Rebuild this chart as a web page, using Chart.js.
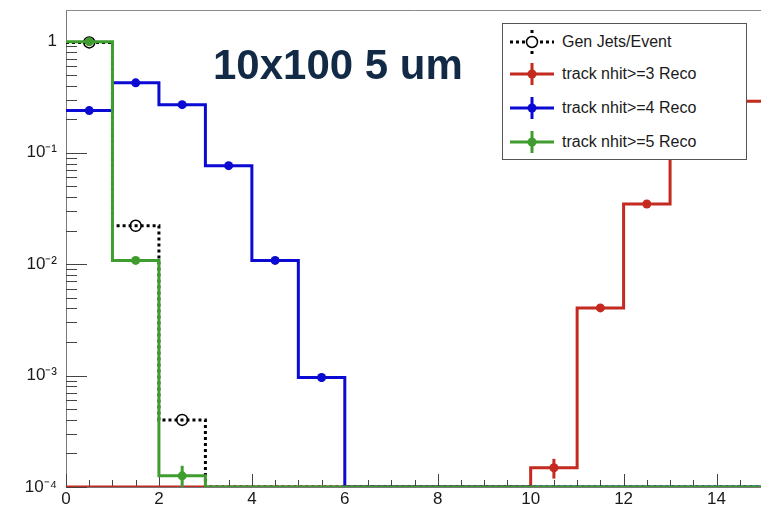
<!DOCTYPE html>
<html><head><meta charset="utf-8">
<script src="https://cdn.jsdelivr.net/npm/chart.js@4/dist/chart.umd.min.js"></script>
<style>
html,body{margin:0;padding:0;background:#fff;overflow:hidden;width:761px;height:507px;}
#wrap{position:relative;width:761px;height:507px;overflow:hidden;}
#c{position:absolute;left:0;top:0;}
#title{position:absolute;left:213px;top:44px;font:bold 42px/42px "Liberation Sans",Arial,sans-serif;color:#132a47;white-space:nowrap;}
#legend{position:absolute;left:502px;top:23px;width:243px;height:135px;border:1px solid #555;background:#fff;font:16px/16px "Liberation Sans",Arial,sans-serif;color:#1a1a1a;}
.item{position:absolute;left:0;height:26px;display:flex;align-items:center;white-space:nowrap;}
.item svg{margin-left:7px;margin-right:8px;display:block;}
</style></head>
<body>
<div id="wrap">
<canvas id="c" width="770" height="507"></canvas>
<div id="title">10x100 5 um</div>
<div id="legend">
 <div class="item" style="top:5px"><svg width="44" height="26"><line x1="0" y1="13" x2="44" y2="13" stroke="#000" stroke-width="3" stroke-dasharray="3,3"/><line x1="22" y1="1" x2="22" y2="25" stroke="#000" stroke-width="3" stroke-dasharray="3,4"/><circle cx="22" cy="13" r="5.5" fill="#fff" stroke="#000" stroke-width="1.5"/></svg><span>Gen Jets/Event</span></div>
 <div class="item" style="top:37px"><svg width="44" height="26"><line x1="0" y1="13" x2="44" y2="13" stroke="#c42a1f" stroke-width="3"/><line x1="22" y1="2" x2="22" y2="24" stroke="#c42a1f" stroke-width="3"/><circle cx="22" cy="13" r="4.5" fill="#c42a1f"/></svg><span>track nhit&gt;=3 Reco</span></div>
 <div class="item" style="top:71px"><svg width="44" height="26"><line x1="0" y1="13" x2="44" y2="13" stroke="#0a0ad2" stroke-width="3"/><line x1="22" y1="2" x2="22" y2="24" stroke="#0a0ad2" stroke-width="3"/><circle cx="22" cy="13" r="4.5" fill="#0a0ad2"/></svg><span>track nhit&gt;=4 Reco</span></div>
 <div class="item" style="top:105px"><svg width="44" height="26"><line x1="0" y1="13" x2="44" y2="13" stroke="#3f9d2f" stroke-width="3"/><line x1="22" y1="2" x2="22" y2="24" stroke="#3f9d2f" stroke-width="3"/><circle cx="22" cy="13" r="4.5" fill="#3f9d2f"/></svg><span>track nhit&gt;=5 Reco</span></div>
</div>
</div>
<script>
// ---- data (bins of width 1 from 0 to 15) ----
const binLow = [0,1,2,3,4,5,6,7,8,9,10,11,12,13,14];
const xMax = 15;
const genJets = [0.978,0.0221,0.00040,0,0,0,0,0,0,0,0,0,0,0,0];
const nhit3   = [0,0,0,0,0,0,0,0,0,0,0.000149,0.00405,0.0347,0.67,0.29];
const nhit3Err= [0,0,0,0,0,0,0,0,0,0,0.00003,0.00016,0.0005,0.002,0.0014];
const nhit4   = [0.239,0.424,0.270,0.0766,0.0108,0.00096,0,0,0,0,0,0,0,0,0];
const nhit4Err= [0.0012,0.0017,0.0013,0.0007,0.00027,0.00008,0,0,0,0,0,0,0,0,0];
const nhit5   = [0.989,0.0108,0.000126,0,0,0,0,0,0,0,0,0,0,0,0];
const nhit5Err= [0.0025,0.00027,0.000029,0,0,0,0,0,0,0,0,0,0,0,0];
const yMin = 1e-4, yMax = 1.91;
const yTickValues = [1e-4,1e-3,1e-2,1e-1,1];
const yTickLabels = ['10\u207B\u2074','10\u207B\u00B3','10\u207B\u00B2','10\u207B\u00B9','1'];
const xTickValues = [0,2,4,6,8,10,12,14];
const xTickLabels = ['0','2','4','6','8','10','12','14'];

const RED='#c42a1f', BLUE='#0a0ad2', GREEN='#3f9d2f', BLACK='#000';
const FONT='"Liberation Sans", Arial, sans-serif';
Chart.defaults.font.family = FONT;

function stepData(vals){
  const pts = binLow.map((x,i)=>({x:x, y: vals[i]>0 ? vals[i] : yMin}));
  pts.push({x:xMax, y: vals[vals.length-1]>0 ? vals[vals.length-1] : yMin});
  return pts;
}
function markerData(vals){
  const pts=[];
  vals.forEach((v,i)=>{ if(v>0) pts.push({x:binLow[i]+0.5, y:v}); });
  return pts;
}
function errData(vals, errs){
  const out=[];
  vals.forEach((v,i)=>{ if(v>0) out.push(errs[i]); });
  return out;
}
function lineDS(vals,color,order,dash){
  return {type:'line', data:stepData(vals), stepped:'before', borderColor:color, borderWidth:3,
    borderDash:dash||[], pointRadius:0, fill:false, order:order, tension:0};
}
function markDS(vals,errs,color,order,open){
  return {type:'line', data:markerData(vals), showLine:false, pointStyle:'circle',
    pointRadius: open?5.5:4.5, pointBorderWidth: open?1.5:0,
    pointBackgroundColor: open?'rgba(0,0,0,0)':color, pointBorderColor:color,
    borderColor:color, order:order, errors: errs?errData(vals,errs):null};
}

const axisDecor = {
  id:'axisDecor',
  beforeDatasetsDraw(chart){
    const {ctx, chartArea:a, scales:{x,y}} = chart;
    ctx.save();
    ctx.lineWidth=1;
    ctx.strokeStyle='#8a8a8a';
    ctx.beginPath(); ctx.moveTo(a.left, a.top+0.5); ctx.lineTo(a.right, a.top+0.5); ctx.stroke();
    ctx.strokeStyle='#444';
    ctx.beginPath();
    for(let v=0; v<=xMax; v+=0.5){
      const len = (v%2===0)?13:7;
      const px = Math.round(x.getPixelForValue(v))+0.5;
      ctx.moveTo(px,a.bottom); ctx.lineTo(px,a.bottom-len);
    }
    for(let n=-4;n<=0;n++){
      for(let k=1;k<=9;k++){
        const v=k*Math.pow(10,n);
        if(v>yMax) break;
        const len = k===1?21:11;
        const py = Math.round(y.getPixelForValue(v))+0.5;
        ctx.moveTo(a.left,py); ctx.lineTo(a.left+len,py);
      }
    }
    ctx.stroke();
    ctx.restore();
  },
  afterDatasetsDraw(chart){
    const {ctx, scales:{x,y}} = chart;
    ctx.save();
    chart.data.datasets.forEach(ds=>{
      if(!ds.errors) return;
      ctx.strokeStyle=ds.borderColor; ctx.lineWidth=3;
      ds.data.forEach((p,i)=>{
        const e=ds.errors[i]; if(!e) return;
        const px=x.getPixelForValue(p.x);
        const lo=Math.max(p.y-e, yMin);
        ctx.beginPath();
        ctx.moveTo(px, y.getPixelForValue(p.y+e));
        ctx.lineTo(px, y.getPixelForValue(lo));
        ctx.stroke();
      });
    });
    ctx.restore();
  }
};

new Chart(document.getElementById('c'), {
  data:{datasets:[
    lineDS(nhit3,RED,10), markDS(nhit3,nhit3Err,RED,9),
    lineDS(nhit4,BLUE,8), markDS(nhit4,nhit4Err,BLUE,7),
    lineDS(genJets,BLACK,6,[3,3]), markDS(genJets,null,BLACK,5,true),
    lineDS(nhit5,GREEN,4), markDS(nhit5,nhit5Err,GREEN,3)
  ]},
  options:{
    responsive:false, animation:false, devicePixelRatio:1,
    layout:{padding:{top:10,left:0,right:0,bottom:0}},
    plugins:{legend:{display:false}, tooltip:{enabled:false}, title:{display:false}},
    scales:{
      x:{type:'linear', min:0, max:xMax,
        afterBuildTicks:s=>{s.ticks=xTickValues.map(v=>({value:v}));},
        afterFit:s=>{s.height=20; s.paddingLeft=0; s.paddingRight=0;},
        ticks:{autoSkip:false, maxRotation:0, padding:2, color:'#1a1a1a', font:{size:17},
          callback:(v,i)=>xTickLabels[i]},
        grid:{display:false, drawTicks:false},
        border:{display:true, color:'#777', width:1}},
      y:{type:'logarithmic', min:yMin, max:yMax,
        afterBuildTicks:s=>{s.ticks=yTickValues.map(v=>({value:v}));},
        afterFit:s=>{s.width=66; s.paddingTop=0; s.paddingBottom=0;},
        ticks:{autoSkip:false, padding:9, color:'#1a1a1a', font:{size:17},
          callback:(v,i)=>yTickLabels[i]},
        grid:{display:false, drawTicks:false},
        border:{display:true, color:'#777', width:1}}
    }
  },
  plugins:[axisDecor]
});
</script>
</body></html>
